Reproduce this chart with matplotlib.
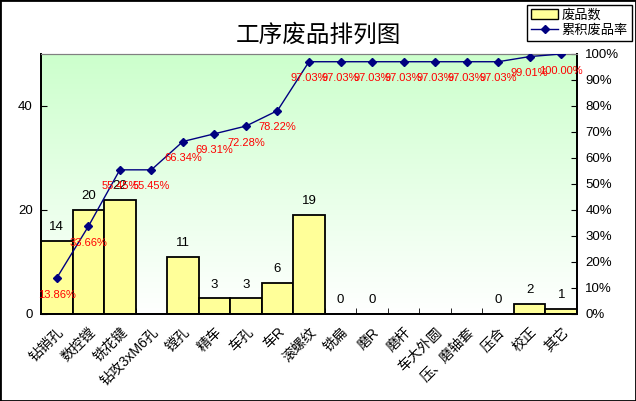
"""Pareto chart of scrap by process step (工序废品排列图)."""

import numpy as np
import matplotlib
matplotlib.use("Agg")
import matplotlib.pyplot as plt
from matplotlib.colors import LinearSegmentedColormap
from matplotlib.lines import Line2D
from matplotlib.patches import Patch, Rectangle
from matplotlib.ticker import PercentFormatter, FixedLocator

plt.rcParams["font.family"] = ["Liberation Sans", "Noto Sans CJK SC", "DejaVu Sans"]

# data
categories = [
    "钻销孔", "数控镗", "铣花键", "钻攻3xM6孔", "镗孔", "精车", "车孔", "车R",
    "滚螺纹", "铣扁", "磨R", "磨杆", "车大外圆", "压、磨轴套", "压合", "校正", "其它",
]
# None = empty cell (no bar, no label)
scrap_counts = [14, 20, 22, None, 11, 3, 3, 6, 19, 0, 0, None, None, None, 0, 2, 1]
cum_rate = [13.86, 33.66, 55.45, 55.45, 66.34, 69.31, 72.28, 78.22,
            97.03, 97.03, 97.03, 97.03, 97.03, 97.03, 97.03, 99.01, 100.00]
left_ticks = [0, 20, 40]

W, H = 636, 401
fig = plt.figure(figsize=(W / 100, H / 100), dpi=100)
ax = fig.add_axes([41 / W, 1 - 314 / H, (577 - 41) / W, (314 - 54) / H])

# plot area background: green at top fading to white
cmap = LinearSegmentedColormap.from_list("bg", ["#ffffff", "#e6ffe6", "#ccffcc"])
grad = np.linspace(0, 1, 256).reshape(-1, 1)
ax.imshow(grad, cmap=cmap, origin="lower", aspect="auto",
          extent=(0, 1, 0, 1), transform=ax.transAxes, zorder=0)

x = np.arange(len(categories))
bar_x = [i for i, v in zip(x, scrap_counts) if v is not None]
bar_h = [v for v in scrap_counts if v is not None]
ax.bar(bar_x, bar_h, width=1.0, color="#ffff99", edgecolor="black",
       linewidth=1.3, zorder=2)
for xi, v in zip(bar_x, bar_h):
    ax.annotate(str(v), (xi, v), xytext=(0, 10), textcoords="offset points",
                ha="center", va="center", fontsize=9.5, color="black", zorder=5)

ax.set_xlim(-0.5, len(categories) - 0.5)
ax.set_ylim(0, 50)
ax.yaxis.set_major_locator(FixedLocator(left_ticks))
ax.tick_params(axis="y", direction="in", length=4, labelsize=9.5, pad=6)
ax.set_xticks(x)
ax.set_xticklabels(categories, rotation=45, ha="right", rotation_mode="anchor",
                   fontsize=10)
ax.tick_params(axis="x", length=0, pad=8)
ax.set_xticks(np.arange(0.5, len(categories) - 1, 1.0), minor=True)
ax.tick_params(axis="x", which="minor", direction="in", length=4)

ax2 = ax.twinx()
ax2.plot(x, np.array(cum_rate) / 100, color="#000080", linewidth=1,
         marker="D", markersize=4.5, zorder=4)
for xi, r in zip(x, cum_rate):
    ax2.annotate(f"{r:.2f}%", (xi, r / 100), xytext=(0, -12),
                 textcoords="offset points", ha="center", va="center",
                 fontsize=8, color="red", zorder=6)
ax2.set_ylim(0, 1)
ax2.set_yticks(np.arange(0, 1.01, 0.1))
ax2.yaxis.set_major_formatter(PercentFormatter(1.0, decimals=0))
ax2.tick_params(axis="y", direction="in", length=4, labelsize=9.5, pad=6)

for a in (ax, ax2):
    a.spines["top"].set_color("#808080")
    for s in ("left", "right", "bottom"):
        a.spines[s].set_color("black")
        a.spines[s].set_linewidth(1.3)

fig.text(318 / W, 1 - 35 / H, "工序废品排列图", ha="center", va="center",
         fontsize=17, family=["Noto Sans CJK SC", "DejaVu Sans"])

handles = [
    Patch(facecolor="#ffff99", edgecolor="black", linewidth=1),
    Line2D([], [], color="#000080", linewidth=1, marker="D", markersize=4.5),
]
leg = fig.legend(handles, ["废品数", "累积废品率"], loc="upper right",
                 bbox_to_anchor=(632 / W, 1 - 5 / H), fontsize=9.5,
                 fancybox=False, framealpha=1, edgecolor="black",
                 handlelength=2.1, handletextpad=0.25, labelspacing=0.2,
                 borderpad=0.3, borderaxespad=0)
leg.get_frame().set_linewidth(1)

fig.patches.append(Rectangle((0, 0), 1, 1, transform=fig.transFigure,
                             fill=False, edgecolor="black", linewidth=2))

fig.savefig("out.png", dpi=100)
